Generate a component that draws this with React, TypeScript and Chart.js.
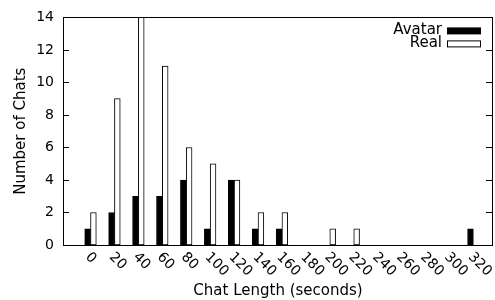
import React, { useEffect, useRef } from "react";
import { Chart, registerables } from "chart.js";

Chart.register(...registerables);

const CATEGORIES = ["0", "20", "40", "60", "80", "100", "120", "140", "160", "180", "200", "220", "240", "260", "280", "300", "320"];
const AVATAR = [1, 2, 3, 3, 4, 1, 4, 1, 1, 0, 0, 0, 0, 0, 0, 0, 1];
const REAL = [2, 9, 14, 11, 6, 5, 4, 2, 2, 0, 1, 1, 0, 0, 0, 0, 0];
const Y_TICKS = [0, 2, 4, 6, 8, 10, 12, 14];
const SERIES_NAMES = ["Avatar", "Real"];
const X_TITLE = "Chat Length (seconds)";
const Y_TITLE = "Number of Chats";

const FONT = "'DejaVu Sans', sans-serif";

const gnuplotPlugin = {
  id: "gnuplotDecor",
  afterDatasetsDraw(chart: any) {
    const { ctx, chartArea, scales } = chart;
    const { left, right, top, bottom } = chartArea;
    const y = scales.y;
    const x = scales.x;
    ctx.save();
    // border
    ctx.strokeStyle = "#000";
    ctx.lineWidth = 1;
    ctx.strokeRect(Math.round(left) + 0.5, Math.round(top) + 0.5, Math.round(right - left) - 1, Math.round(bottom - top));
    // inward y ticks on both sides
    ctx.beginPath();
    for (const v of Y_TICKS) {
      const py = Math.round(y.getPixelForValue(v)) + 0.5;
      ctx.moveTo(left, py);
      ctx.lineTo(left + 6, py);
      ctx.moveTo(right - 1, py);
      ctx.lineTo(right - 7, py);
    }
    ctx.stroke();
    // rotated x labels
    ctx.fillStyle = "#000";
    ctx.font = `14px ${FONT}`;
    ctx.textAlign = "left";
    ctx.textBaseline = "middle";
    CATEGORIES.forEach((lab, i) => {
      const px = x.getPixelForValue(i);
      ctx.save();
      ctx.translate(px - 3, bottom + 10);
      ctx.rotate(Math.PI / 4);
      ctx.fillText(lab, 0, 0);
      ctx.restore();
    });
    // legend
    ctx.font = `15px ${FONT}`;
    ctx.textAlign = "right";
    ctx.textBaseline = "middle";
    const textRight = right - 51;
    const swL = right - 46;
    const swW = 34;
    const rows = [top + 13, top + 26];
    SERIES_NAMES.forEach((name, i) => {
      const cy = rows[i];
      ctx.fillStyle = "#000";
      ctx.fillText(name, textRight, cy);
      if (i === 0) {
        ctx.fillRect(swL, cy - 3, swW, 7);
      } else {
        ctx.fillStyle = "#fff";
        ctx.fillRect(swL, cy - 3, swW, 7);
        ctx.strokeStyle = "#000";
        ctx.strokeRect(swL + 0.5, cy - 2.5, swW - 1, 6);
      }
    });
    ctx.restore();
  },
};

export default function App() {
  const ref = useRef<HTMLCanvasElement | null>(null);
  useEffect(() => {
    if (!ref.current) return;
    const chart = new Chart(ref.current, {
      type: "bar",
      data: {
        datasets: [
          {
            label: SERIES_NAMES[0],
            data: AVATAR.map((v, i) => ({ x: i, y: v })),
            backgroundColor: "#000",
            borderColor: "#000",
            borderWidth: 1,
            borderSkipped: false,
            barThickness: 5.8,
          },
          {
            label: SERIES_NAMES[1],
            data: REAL.map((v, i) => ({ x: i, y: v })),
            backgroundColor: "#fff",
            borderColor: "#000",
            borderWidth: 1,
            borderSkipped: false,
            barThickness: 5.8,
          },
        ],
      },
      options: {
        animation: false,
        responsive: false,
        maintainAspectRatio: false,
        layout: { padding: { left: 0, right: 2, top: 15, bottom: 0 } },
        plugins: { legend: { display: false }, tooltip: { enabled: false } },
        scales: {
          x: {
            type: "linear",
            min: -1.15,
            max: 16.82,
            offset: false,
            grid: { display: false },
            border: { display: false },
            ticks: { display: false },
            title: {
              display: true,
              text: X_TITLE,
              color: "#000",
              font: { family: FONT, size: 15 },
              padding: { top: 0, bottom: 0 },
            },
            afterFit: (s: any) => {
              s.height = 55;
            },
          },
          y: {
            min: 0,
            max: 14,
            grid: { display: false, drawTicks: false },
            border: { display: false },
            ticks: {
              stepSize: 2,
              color: "#000",
              padding: 9,
              font: { family: FONT, size: 14 },
            },
            title: {
              display: true,
              text: Y_TITLE,
              color: "#000",
              font: { family: FONT, size: 15 },
              padding: { top: 12, bottom: 0 },
            },
            afterFit: (s: any) => {
              s.width = 63;
            },
          },
        },
      },
      plugins: [gnuplotPlugin],
    });
    return () => chart.destroy();
  }, []);
  return (
    <div style={{ position: "fixed", left: 0, top: 0, width: 495, height: 300, background: "#fff" }}>
      <canvas ref={ref} width={495} height={300} style={{ width: 495, height: 300, display: "block" }} />
    </div>
  );
}
